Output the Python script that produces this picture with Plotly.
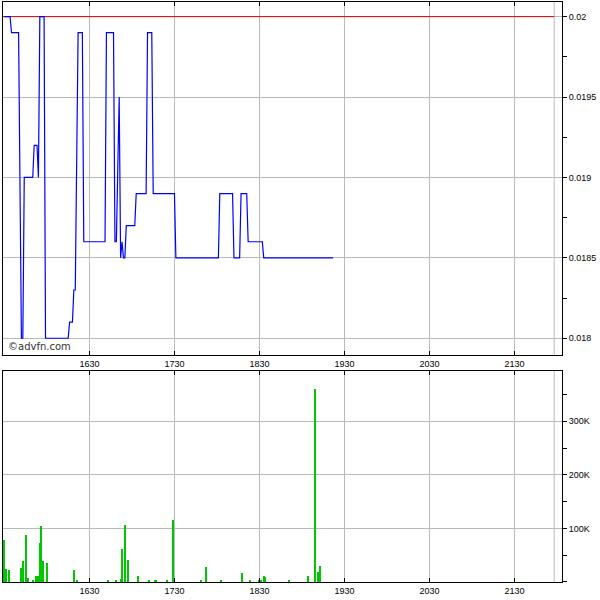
import pandas as pd
import plotly.graph_objects as go

# ---------------- data ----------------
BASE = "2024-01-02 15:30"
# price series: minutes after 15:30, price
price_min = [0, 4, 5, 10, 12, 13, 14, 20, 21, 23, 24, 25, 28, 29, 45, 46, 48, 49, 50, 52,
             55, 56, 71, 72, 77, 78, 79, 81, 82, 83, 84, 85, 86, 92, 93, 100, 101, 104,
             105, 120, 121, 151, 152, 161, 162, 166, 167, 171, 172, 182, 183, 232]
price_val = [0.02, 0.02, 0.0199, 0.0199, 0.018, 0.018, 0.019, 0.019, 0.0192, 0.0192,
             0.019, 0.02, 0.02, 0.018, 0.018, 0.0181, 0.0181, 0.0183, 0.0183, 0.0199,
             0.0199, 0.0186, 0.0186, 0.0199, 0.0199, 0.0186, 0.0186, 0.0195, 0.0185,
             0.0186, 0.0185, 0.0185, 0.0187, 0.0187, 0.0189, 0.0189, 0.0199, 0.0199,
             0.0189, 0.0189, 0.0185, 0.0185, 0.0189, 0.0189, 0.0185, 0.0185, 0.0189,
             0.0189, 0.0186, 0.0186, 0.0185, 0.0185]

# volume series: minutes after 15:30, shares
vol_min = [0, 1, 3, 12, 13, 15, 17, 20, 22, 24, 25, 26, 27, 30, 49, 51, 73, 79, 82, 83,
           85, 87, 94, 102, 106, 107, 115, 119, 139, 142, 153, 168, 173, 180, 181, 183,
           184, 201, 214, 219, 221, 223]
vol_val = [79000, 25000, 23000, 26000, 40000, 87000, 7000, 3000, 11000, 11000, 72000,
           105000, 40000, 35000, 23000, 3000, 3000, 2000, 6000, 62000, 107000, 42000,
           12000, 3000, 3000, 2000, 3000, 115000, 3000, 28000, 2000, 16000, 3000, 4000,
           2000, 11000, 9000, 2000, 11000, 360000, 19000, 30000]

PREV_CLOSE = 0.02
SESSION_END_MIN = 388
RANGE_MIN = [-1, 393.5]

x_tick_min = [60, 120, 180, 240, 300, 360]
x_tick_labels = ["1630", "1730", "1830", "1930", "2030", "2130"]
price_ticks = [0.018, 0.0185, 0.019, 0.0195, 0.02]
price_tick_labels = ["0.018", "0.0185", "0.019", "0.0195", "0.02"]
vol_ticks = [100000, 200000, 300000]
vol_tick_labels = ["100K", "200K", "300K"]

base = pd.Timestamp(BASE)
def t(mins):
    return [base + pd.Timedelta(minutes=m) for m in mins]

# ---------------- figure ----------------
fig = go.Figure()
fig.add_trace(go.Scatter(x=t([RANGE_MIN[0], SESSION_END_MIN]), y=[PREV_CLOSE, PREV_CLOSE],
                         mode="lines", line=dict(color="#E00000", width=1),
                         xaxis="x", yaxis="y", hoverinfo="skip"))
fig.add_trace(go.Scatter(x=t(price_min), y=price_val, mode="lines",
                         line=dict(color="#0000FF", width=1.2), xaxis="x", yaxis="y"))
fig.add_trace(go.Bar(x=t(vol_min), y=vol_val, marker=dict(color="#00C800", line_width=0),
                     width=45000, xaxis="x2", yaxis="y2"))

grid = "#B4BCBC"
font = dict(family="Liberation Sans, Arial, sans-serif", size=9, color="black")
xcommon = dict(type="date", range=t(RANGE_MIN), tickvals=t(x_tick_min), ticktext=x_tick_labels,
               showgrid=True, gridcolor=grid, gridwidth=1, ticks="inside", ticklen=4,
               tickcolor="black", showline=True, linecolor="black", linewidth=1,
               mirror="allticks", tickfont=font, zeroline=False)

fig.update_layout(
    width=600, height=600, showlegend=False,
    paper_bgcolor="white", plot_bgcolor="white",
    margin=dict(l=3, r=38, t=2, b=18),
    xaxis=dict(**xcommon, anchor="y", domain=[0, 1]),
    xaxis2=dict(**xcommon, anchor="y2", domain=[0, 1], matches="x"),
    yaxis=dict(domain=[0.3914, 1], side="right", range=[0.017896, 0.020091],
               tickvals=price_ticks, ticktext=price_tick_labels,
               showgrid=True, gridcolor=grid, ticks="outside", ticklen=4,
               tickcolor="black", showline=True, linecolor="black", mirror=True,
               tickfont=font, zeroline=False,
               minor=dict(dtick=0.00025, ticks="outside", ticklen=4, tickcolor="black",
                          showgrid=False), anchor="x"),
    yaxis2=dict(domain=[0, 0.3638], side="right", range=[0, 394000],
                tickvals=vol_ticks, ticktext=vol_tick_labels,
                showgrid=True, gridcolor=grid, ticks="outside", ticklen=4,
                tickcolor="black", showline=True, linecolor="black", mirror=True,
                tickfont=font, zeroline=False,
                minor=dict(dtick=50000, ticks="outside", ticklen=4, tickcolor="black",
                           showgrid=False), anchor="x2"),
    bargap=0,
)

for xr, yr in (("x", "y domain"), ("x2", "y2 domain")):
    fig.add_shape(type="line", xref=xr, yref=yr,
                  x0=t([SESSION_END_MIN])[0], x1=t([SESSION_END_MIN])[0], y0=0, y1=1,
                  line=dict(color=grid, width=1), layer="below")

fig.add_annotation(text="©advfn.com", xref="x domain", yref="y domain", x=0, y=0,
                   xanchor="left", yanchor="bottom", xshift=3, yshift=1, showarrow=False,
                   font=dict(family="DejaVu Sans, Verdana, sans-serif", size=10, color="#333333"))

fig.write_html("out.html", config={"displayModeBar": False},
               post_script="document.body.style.margin='0';document.body.style.overflow='hidden';")
